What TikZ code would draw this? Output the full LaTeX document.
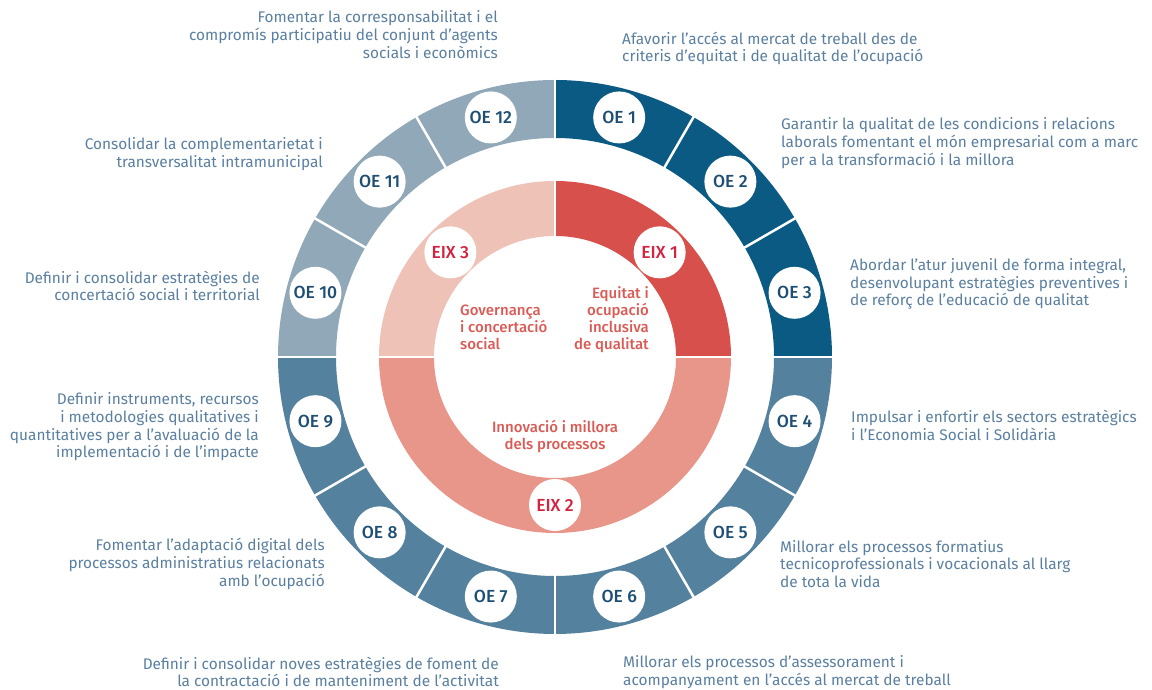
\documentclass[tikz,border=0pt]{standalone}
\usepackage{fontspec}
\setmainfont{Fira Sans}
\newfontfamily\medfont{Fira Sans Medium}
\definecolor{oeA}{HTML}{0A5A83}
\definecolor{oeB}{HTML}{54819D}
\definecolor{oeC}{HTML}{90A8B8}
\definecolor{txt}{HTML}{5A7FA0}
\definecolor{oelab}{HTML}{1D4E74}
\definecolor{eixA}{HTML}{D8504B}
\definecolor{eixB}{HTML}{E8958A}
\definecolor{eixC}{HTML}{EEC2B6}
\definecolor{eixlab}{HTML}{D42340}
\definecolor{ctr}{HTML}{DA5B55}
\begin{document}
\begin{tikzpicture}[x=1pt,y=1pt,
  desc/.style={font=\fontsize{15.4}{17.7}\selectfont, text=txt, inner sep=0pt},
  descL/.style={desc, align=left, anchor=west},
  descR/.style={desc, align=right, anchor=east},
  oe/.style={circle, fill=white, minimum size=52pt, inner sep=0pt, text=oelab, font=\fontsize{17.5}{17}\selectfont\medfont},
  eix/.style={circle, fill=white, minimum size=52pt, inner sep=0pt, text=eixlab, font=\fontsize{17.5}{17}\selectfont\medfont},
  ctrtext/.style={font=\fontsize{15}{17}\selectfont\medfont, text=ctr, inner sep=0pt},
  gap/.style={white, line width=2.5pt}]
\useasboundingbox (0,0) rectangle (1152,690);
\begin{scope}[shift={(555,333)}]
  % outer ring
  \foreach \i/\c in {0/oeA,1/oeA,2/oeA,3/oeB,4/oeB,5/oeB,6/oeB,7/oeB,8/oeB,9/oeC,10/oeC,11/oeC} {
    \pgfmathsetmacro\a{90-30*\i}
    \pgfmathsetmacro\b{60-30*\i}
    \fill[\c] (\a:277) arc[start angle=\a, end angle=\b, radius=277] -- (\b:219) arc[start angle=\b, end angle=\a, radius=219] -- cycle;
  }
  \foreach \i in {0,...,11} {
    \pgfmathsetmacro\a{90-30*\i}
    \draw[gap] (\a:215) -- (\a:281);
  }
  % inner ring
  \fill[eixA] (90:176) arc[start angle=90, end angle=0, radius=176] -- (0:121) arc[start angle=0, end angle=90, radius=121] -- cycle;
  \fill[eixB] (0:176) arc[start angle=0, end angle=-180, radius=176] -- (-180:121) arc[start angle=-180, end angle=0, radius=121] -- cycle;
  \fill[eixC] (180:176) arc[start angle=180, end angle=90, radius=176] -- (90:121) arc[start angle=90, end angle=180, radius=121] -- cycle;
  \foreach \a in {90,0,180} \draw[gap] (\a:117) -- (\a:180);
  % OE circles
  \node[oe] (oe1) at (75:248) {OE 1};
  \node[oe] (oe2) at (45:248) {OE 2};
  \node[oe] (oe3) at (15:248) {OE 3};
  \node[oe] (oe4) at (-15:248) {OE 4};
  \node[oe] (oe5) at (-45:248) {OE 5};
  \node[oe] (oe6) at (-75:248) {OE 6};
  \node[oe] (oe7) at (-105:248) {OE 7};
  \node[oe] (oe8) at (-135:248) {OE 8};
  \node[oe] (oe9) at (-165:248) {OE 9};
  \node[oe] (oe10) at (165:248) {OE 10};
  \node[oe] (oe11) at (135:248) {OE 11};
  \node[oe] (oe12) at (105:248) {OE 12};
  % EIX circles
  \node[eix] (eix1) at (45:148) {EIX 1};
  \node[eix] (eix2) at (-90:148) {EIX 2};
  \node[eix] (eix3) at (135:148) {EIX 3};
\end{scope}
% centre texts
\node[ctrtext, align=left, anchor=west] (c3) at (460,363) {Governança\\i concertació\\social};
\node[ctrtext, align=right, anchor=east] (c1) at (649,370.5) {Equitat i\\ocupació\\inclusiva\\de qualitat};
\node[ctrtext, align=center] (c2) at (555,253.5) {Innovació i millora\\dels processos};
% descriptions
\node[descR] (t12) at (498,655.5) {Fomentar la corresponsabilitat i el\\compromís participatiu del conjunt d’agents\\socials i econòmics};
\node[descL] (t1) at (622,641.5) {Afavorir l’accés al mercat de treball des de\\criteris d’equitat i de qualitat de l’ocupació};
\node[descL] (t2) at (781,547) {Garantir la qualitat de les condicions i relacions\\laborals fomentant el món empresarial com a marc\\per a la transformació i la millora};
\node[descL] (t3) at (850,406) {Abordar l’atur juvenil de forma integral,\\desenvolupant estratègies preventives i\\de reforç de l’educació de qualitat};
\node[descL] (t4) at (851,264.5) {Impulsar i enfortir els sectors estratègics\\i l’Economia Social i Solidària};
\node[descL] (t5) at (780,126) {Millorar els processos formatius\\tecnicoprofessionals i vocacionals al llarg\\de tota la vida};
\node[descL] (t6) at (623,18) {Millorar els processos d’assessorament i\\acompanyament en l’accés al mercat de treball};
\node[descR] (t7) at (499,18) {Definir i consolidar noves estratègies de foment de\\la contractació i de manteniment de l’activitat};
\node[descR] (t8) at (325,126) {Fomentar l’adaptació digital dels\\processos administratius relacionats\\amb l’ocupació};
\node[descR] (t9) at (259,263) {Definir instruments, recursos\\i metodologies qualitatives i\\quantitatives per a l’avaluació de la\\implementació i de l’impacte};
\node[descR] (t10) at (260,404) {Definir i consolidar estratègies de\\concertació social i territorial};
\node[descR] (t11) at (323,536) {Consolidar la complementarietat i\\transversalitat intramunicipal};
\end{tikzpicture}
\end{document}
